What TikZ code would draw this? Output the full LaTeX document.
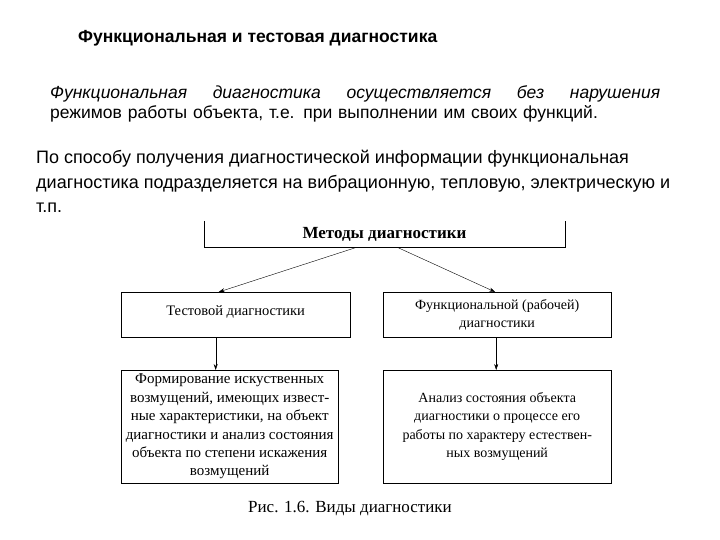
\documentclass[tikz,border=0pt]{standalone}
\usepackage{fontspec}
\setmainfont{Liberation Serif}
\newfontfamily\slidefont{Liberation Sans}
\usetikzlibrary{arrows.meta}

\begin{document}
\begin{tikzpicture}[x=1pt,y=-1pt,
  box/.style={draw,thin,inner sep=0pt,align=center,font=\fontsize{14}{18.5}\selectfont},
  arr/.style={-{Stealth[length=6pt,width=4pt]},thin},
  txt/.style={inner sep=0pt,anchor=base west,font=\slidefont\fontsize{18}{24}\selectfont}]
\useasboundingbox (0,0) rectangle (720,540);
% heading and slide text
\node[txt,font=\slidefont\bfseries\fontsize{17.5}{18}\selectfont] (title) at (78,43) {Функциональная и тестовая диагностика};
\node[txt,text width=610pt,align=left,font=\slidefont\itshape\fontsize{17.5}{20}\selectfont] (func) at (50,99)
  {Функциональная\hfill диагностика\hfill осуществляется\hfill без\hfill нарушения\\
   \upshape режимов работы объекта, т.е. при выполнении им своих функций.};
\node[txt,align=left] (ways) at (36,212)
  {По способу получения диагностической информации функциональная\\
   диагностика подразделяется на вибрационную, тепловую, электрическую и\\
   т.п.};
% scheme
\node[minimum width=361pt,minimum height=26pt,inner sep=0pt,font=\bfseries\fontsize{17}{18}\selectfont] (methods) at (384.5,234) {Методы диагностики};
\draw[thin] (methods.north west) -- (methods.south west) -- (methods.south east) -- (methods.north east);
\node[box,minimum width=229pt,minimum height=45pt,anchor=north west,font=\fontsize{14.5}{18}\selectfont] (test) at (121,292) {\raisebox{8pt}{Тестовой диагностики}};
\node[box,minimum width=228pt,minimum height=45pt,anchor=north west] (work) at (383,292) {Функциональной (рабочей)\\диагностики};
\node[box,minimum width=217pt,minimum height=113pt,anchor=north west,font=\fontsize{15}{18.4}\selectfont] (testdesc) at (121,370)
  {Формирование искуственных\\возмущений, имеющих извест-\\ные характеристики, на объект\\диагностики и анализ состояния\\объекта по степени искажения\\возмущений};
\node[box,minimum width=228pt,minimum height=113pt,anchor=north west] (workdesc) at (383,370)
  {Анализ состояния объекта\\диагностики о процессе его\\работы по характеру естествен-\\ных возмущений};
\draw[arr] ([xshift=-27.5pt]methods.south) -- ([xshift=-17pt]test.north);
\draw[arr] ([xshift=12.5pt]methods.south) -- ([xshift=-2pt]work.north);
\draw[arr] ([xshift=-20pt]test.south) -- ([xshift=-14pt]testdesc.north);
\draw[arr] ([xshift=-1pt]work.south) -- ([xshift=-1pt]workdesc.north);
\node[inner sep=0pt,font=\fontsize{17}{20}\selectfont] (caption) at (350,509) {Рис. 1.6. Виды диагностики};
\end{tikzpicture}
\end{document}
